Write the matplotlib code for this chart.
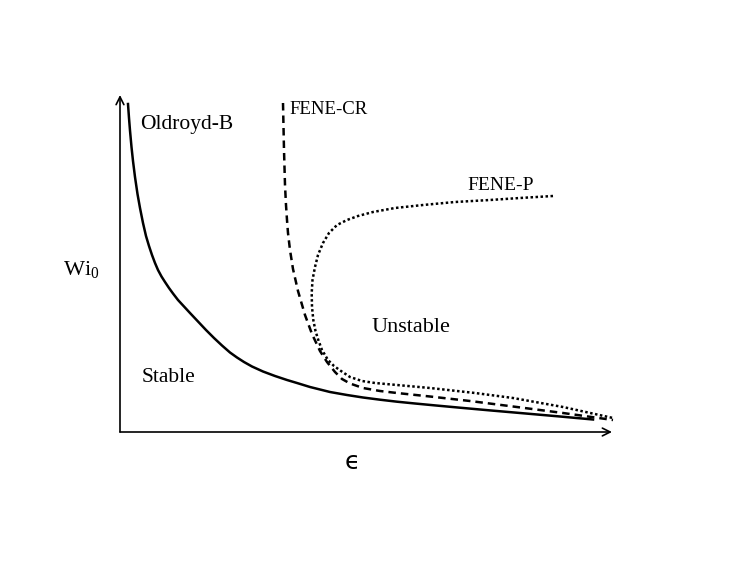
import numpy as np
import matplotlib
matplotlib.use("Agg")
import matplotlib.pyplot as plt

# =========================
# DATA (schematic, arbitrary units)
# =========================
oldroyd_x = [8, 9, 10, 11.5, 13, 15, 17.5, 20, 23, 26, 29, 32, 35, 38, 41.5, 45, 49, 53, 58, 64, 70,
             78, 86, 94, 102, 110, 117, 124, 132, 143, 155, 167, 177, 190, 210, 227, 243, 260, 277,
             295, 315, 340, 370, 400, 440, 473]
oldroyd_y = [328, 314, 301.5, 285, 271, 255, 238, 224, 209, 196, 186, 177, 169, 162, 155.5, 150, 144,
             138.5, 132, 125.5, 119, 110.5, 102, 94, 86.5, 79.5, 74.5, 70, 65.5, 60.5, 56, 52, 49, 45,
             40, 37, 34.5, 32.3, 30.3, 28.5, 26.6, 24.3, 21.6, 19, 15.5, 12.5]

fenecr_x = [163, 164, 165, 166, 167, 168, 170, 173, 178, 185, 192, 200, 207, 215, 222, 230, 243, 260,
            277, 310, 350, 393, 443, 493]
fenecr_y = [329, 282, 247, 227, 212, 199, 182, 163, 141, 117, 98, 81, 70, 60, 53, 48.5, 44, 41,
            39, 35.5, 31, 25.5, 19, 12]

fenep_x = [433, 400, 370, 335, 303, 275, 253, 238, 227, 217, 209, 203, 198, 195, 192.5, 191.7, 192,
           193.3, 195.5, 198.3, 202, 208, 214, 221, 230, 242, 255, 277, 310, 355, 393, 443, 493]
fenep_y = [236, 234, 232, 230, 227, 224, 220, 216, 212, 207, 199, 189, 177, 165, 152, 139, 125,
           112, 101, 92, 82, 72, 66, 61, 55, 51, 49, 47, 44, 39, 34, 25, 14]

plt.rcParams['font.family'] = ['Liberation Serif', 'DejaVu Serif']
plt.rcParams['mathtext.fontset'] = 'custom'
plt.rcParams['mathtext.rm'] = 'Liberation Serif'
plt.rcParams['mathtext.it'] = 'Liberation Serif:italic'

# =========================
# FIGURE
# =========================
fig = plt.figure(figsize=(7.47, 5.78), dpi=100)
ax = fig.add_axes([120 / 747, 146 / 578, 492 / 747, 337 / 578])
ax.set_xlim(0, 492)
ax.set_ylim(0, 337)
ax.axis("off")

# axes drawn as arrows
arrow = dict(arrowstyle="->", lw=1.2, color="black", shrinkA=0, shrinkB=0,
             mutation_scale=14)
ax.annotate("", xy=(0, 337), xytext=(0, 0), arrowprops=arrow, annotation_clip=False)
ax.annotate("", xy=(492, 0), xytext=(0, 0), arrowprops=arrow, annotation_clip=False)

# curves
ax.plot(oldroyd_x, oldroyd_y, color="black", lw=1.8, solid_joinstyle="round", clip_on=False)
ax.plot(fenecr_x, fenecr_y, color="black", lw=1.8, linestyle=(0, (3, 2)), clip_on=False)
ax.plot(fenep_x, fenep_y, color="black", lw=1.8, linestyle=(0, (1, 1)), clip_on=False)

# labels
ax.text(20, 307, "Oldroyd-B", fontsize=15.5, va="center", ha="left")
ax.text(169, 322, "FENE-CR", fontsize=13.5, va="center", ha="left")
ax.text(347, 247, "FENE-P", fontsize=14, va="center", ha="left")
ax.text(252, 104, "Unstable", fontsize=16, va="center", ha="left")
ax.text(22, 54, "Stable", fontsize=15.5, va="center", ha="left")
ax.text(-57, 162, r"$\mathrm{Wi}_0$", fontsize=16, va="center", ha="left")
ax.text(232, -30, "\u03f5", fontsize=18, va="center", ha="center", family="DejaVu Sans")

fig.savefig("out.png", dpi=100)
